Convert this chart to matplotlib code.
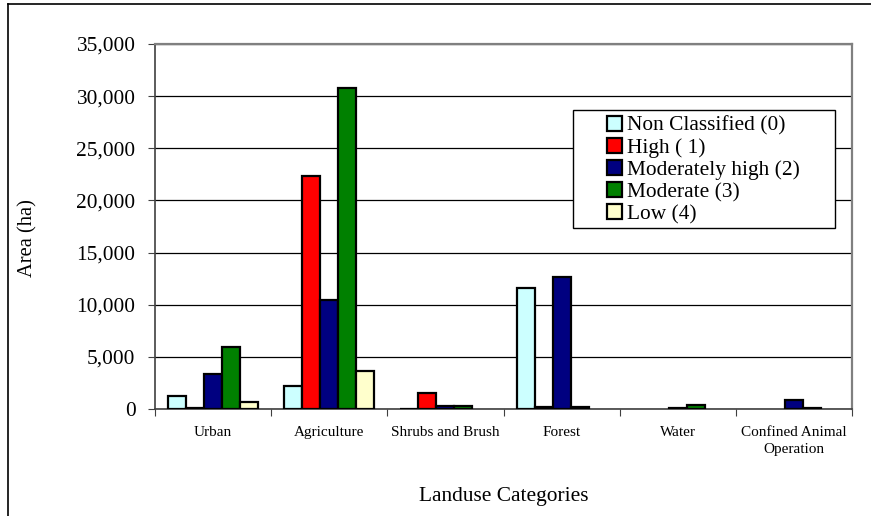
import numpy as np
import matplotlib.pyplot as plt
from matplotlib.lines import Line2D
from matplotlib.patches import Rectangle

plt.rcParams['font.family'] = ['Liberation Serif', 'DejaVu Serif']

categories = ['Urban', 'Agriculture', 'Shrubs and Brush', 'Forest', 'Water',
              'Confined Animal\nOperation']
series = ['Non Classified (0)', 'High ( 1)', 'Moderately high (2)', 'Moderate (3)', 'Low (4)']
non_classified = [1250, 2200, 30, 11600, 0, 0]
high = [100, 22300, 1500, 150, 0, 0]
mod_high = [3400, 10500, 250, 12700, 50, 900]
moderate = [5900, 30800, 250, 150, 350, 50]
low = [650, 3650, 0, 0, 0, 0]
colors = ['#CCFFFF', '#FF0000', '#000080', '#008000', '#FFFFCC']

values = [non_classified, high, mod_high, moderate, low]

W, H = 871, 516
fig = plt.figure(figsize=(W / 100, H / 100), dpi=100)
ax = fig.add_axes([155 / W, 1 - 409 / H, 697 / W, 365 / H])

x = np.arange(len(categories)) + 0.5
w = 0.155
for i, (name, vals, c) in enumerate(zip(series, values, colors)):
    bars = ax.bar(x + (i - 2) * w, vals, width=w, color=c, edgecolor='black',
                  linewidth=1.6, label=name, zorder=3)
    for b, v in zip(bars, vals):
        if v == 0:
            b.set_visible(False)

ax.set_xlim(0, len(categories))
ax.set_ylim(0, 35000)
ax.set_yticks(np.arange(0, 35001, 5000))
ax.set_yticklabels([f'{v:,}' for v in range(0, 35001, 5000)], fontsize=15.4)
ax.yaxis.grid(True, color='black', linewidth=0.9, zorder=0)

ax.set_xticks(np.arange(len(categories) + 1))
ax.set_xticklabels([])
ax.set_xticks(x, minor=True)
ax.set_xticklabels(categories, minor=True, fontsize=11, linespacing=1.4)
ax.tick_params(axis='x', which='minor', length=0, pad=12)
ax.tick_params(axis='x', which='major', length=5, color='#404040', direction='out')
ax.tick_params(axis='y', length=5, color='#404040', direction='out', pad=9)

for s in ['left', 'bottom']:
    ax.spines[s].set_color('#404040')
    ax.spines[s].set_linewidth(1.2)
for s in ['top', 'right']:
    ax.spines[s].set_color('#808080')
    ax.spines[s].set_linewidth(1.6)

fig.text(0.5 * (155 + 852) / W, 1 - 497 / H, 'Landuse Categories',
         ha='center', va='center', fontsize=15.4)
fig.text(28 / W, 1 - 238 / H, 'Area (ha)', rotation=90,
         ha='center', va='center', fontsize=14.8)

# legend box drawn by hand, entries placed inside it
fig.add_artist(Rectangle((573 / W, 1 - 228 / H), 262 / W, 118 / H,
                         transform=fig.transFigure, facecolor='white',
                         edgecolor='black', linewidth=1.0, zorder=5))
leg = ax.legend(loc='upper left', bbox_to_anchor=(607 / W, 1 - 116 / H),
                bbox_transform=fig.transFigure, fontsize=15.4, frameon=False,
                borderpad=0, labelspacing=0.1,
                handlelength=0.7, handleheight=0.7, handletextpad=0.25,
                borderaxespad=0)
leg.set_zorder(6)
fig.add_artist(leg)

# chart area border
fig.add_artist(Line2D([8 / W, 1.0], [1 - 4 / H, 1 - 4 / H], color='black', linewidth=1.2))
fig.add_artist(Line2D([8 / W, 8 / W], [0, 1 - 4 / H], color='black', linewidth=1.2))

fig.savefig('out.png', dpi=100)
